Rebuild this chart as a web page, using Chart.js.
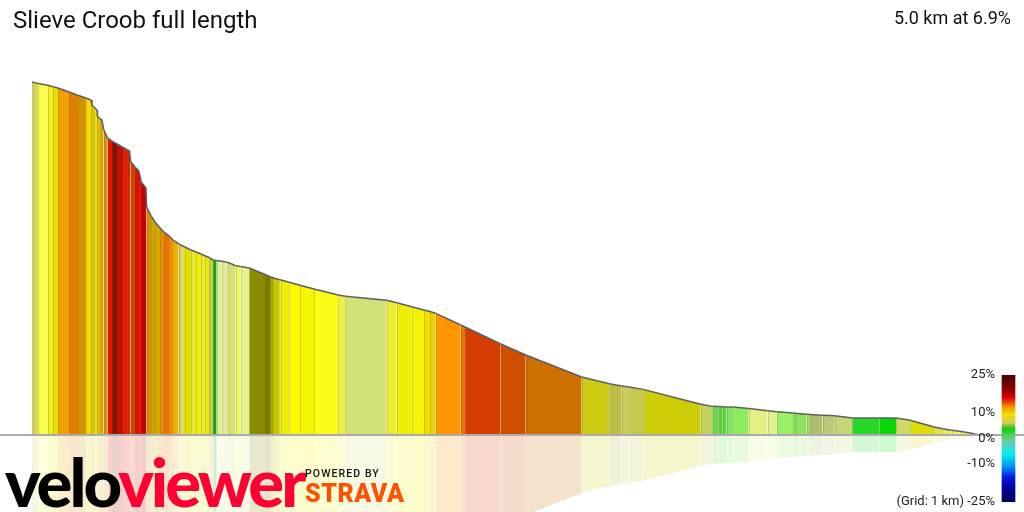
<!DOCTYPE html>
<html>
<head>
<meta charset="utf-8">
<title>Slieve Croob full length</title>
<script src="https://cdn.jsdelivr.net/npm/chart.js@4"></script>
<style>
    html, body { margin: 0; padding: 0; background: #fff; overflow: hidden; }
    #wrap { position: relative; width: 1024px; height: 512px; font-family: Roboto, sans-serif; color: #111; }
    #profile { position: absolute; left: 0; top: 0; }
    #scaleBar { position: absolute; left: 880px; top: 365px; }
    .label { position: absolute; white-space: nowrap; }
    #title { left: 13px; top: 5px; font-size: 24px; line-height: 30px; }
    #summary { right: 13px; top: 7px; font-size: 18px; line-height: 22px; }
    #logo { left: 5px; top: 441px; font-family: Lato, sans-serif; font-weight: 900; font-size: 67px; line-height: 80px; letter-spacing: -3px; transform-origin: left top; transform: scaleX(1.0); }
    #logo .velo { color: #000; }
    #logo .viewer { color: #ff0033; }
    #powered { left: 305px; top: 467px; font-size: 10.5px; font-weight: 500; letter-spacing: 1.1px; line-height: 13px; }
    #strava { left: 305px; top: 480px; font-size: 25px; font-weight: 900; letter-spacing: 0.5px; line-height: 28px; color: #fc5200; }
</style>
</head>
<body>
<div id="wrap">
    <canvas id="profile" width="1024" height="512"></canvas>
    <canvas id="scaleBar" width="142" height="147"></canvas>
    <div class="label" id="title">Slieve Croob full length</div>
    <div class="label" id="summary">5.0 km at 6.9%</div>
    <div class="label" id="logo"><span class="velo">velo</span><span class="viewer">viewer</span></div>
    <div class="label" id="powered">POWERED BY</div>
    <div class="label" id="strava">STRAVA</div>
</div>
<script>
// metres from the summit, elevation above the foot of the climb (m)
const distances = [
    0, 11, 32, 84, 111, 137, 195, 237, 269, 285, 311, 316, 327, 343, 345, 359, 369, 377, 398, 422,
    448, 480, 501, 514, 520, 543, 562, 570, 575, 601, 604, 628, 649, 675, 696, 723, 744, 773, 783, 807,
    839, 865, 891, 912, 934, 955, 974, 1001, 1034, 1074, 1101, 1146, 1229, 1255, 1271, 1292, 1312, 1357, 1413, 1487,
    1615, 1652, 1871, 1923, 2003, 2067, 2099, 2129, 2261, 2284, 2472, 2604, 2899, 3045, 3110, 3150, 3224, 3527, 3588, 3620,
    3643, 3664, 3699, 3780, 3880, 3928, 4015, 4036, 4086, 4103, 4170, 4234, 4326, 4469, 4557, 4632, 4753, 4801, 4850, 4894,
    4947, 5000
];
const elevations = [
    344.9, 344.5, 343.4, 341.7, 340.3, 339.0, 335.1, 332.2, 330.2, 329.2, 327.3, 322.4, 320.5, 317.5, 311.7, 308.7, 307.8, 299.0, 290.2, 287.2,
    284.3, 280.9, 278.9, 277.5, 267.2, 261.8, 258.4, 253.0, 247.5, 241.0, 223.1, 214.0, 208.1, 202.2, 198.3, 194.4, 190.5, 187.1, 185.6, 183.7,
    180.7, 178.8, 176.8, 175.2, 173.4, 171.0, 170.5, 169.7, 168.5, 165.4, 164.6, 163.2, 156.8, 154.7, 153.7, 152.4, 151.4, 149.2, 146.3, 142.6,
    136.8, 135.5, 131.6, 129.3, 125.3, 122.1, 120.7, 118.9, 107.5, 105.5, 88.9, 78.2, 56.7, 50.1, 47.9, 46.9, 44.6, 30.0, 28.0, 27.8,
    27.6, 27.5, 27.4, 25.9, 23.7, 22.8, 21.5, 21.0, 20.2, 20.0, 19.3, 18.9, 16.6, 16.6, 16.6, 14.4, 8.1, 6.2, 4.6, 3.6,
    2.0, 0
];
const gradeTicks = [25, 10, 0, -10, -25];

// fill for the stretch that starts at each point above
const segmentColours = [
    '#c8c860', '#dcdc50', '#f8fa50', '#f0f020', '#e5e000', '#f0a000', '#e08000', '#d89000', '#c8a000', '#ffd800',
    '#d8c800', '#d8c800', '#e8e020', '#e0c000', '#e0c000', '#d8a800', '#d8a800', '#d89000', '#e81000', '#881000',
    '#c01000', '#e81800', '#d02800', '#d02800', '#c84800', '#e01000', '#e01000', '#c80000', '#c80000', '#c80000',
    '#d89000', '#c8a800', '#d8a800', '#e09000', '#f07000', '#f09000', '#f0b000', '#c0c060', '#e0e040', '#e0e000',
    '#e8e830', '#f0f000', '#e8e840', '#e8f000', '#c8c850', '#10a810', '#e0f090', '#e5e8a0', '#d8e070', '#f0f860',
    '#e8f090', '#8b8b00', '#7a7a00', '#a8a800', '#c8c800', '#d8d810', '#eeee00', '#fafa00', '#f5f500', '#fcfc18',
    '#f0f040', '#d2e078', '#ecec30', '#eeee08', '#f4f400', '#f0e000', '#f0d000', '#ff9500', '#f07000', '#d43c00',
    '#cc5000', '#cc7000', '#cccc14', '#bcbc48', '#cccc58', '#c4c84c', '#cccc08', '#c4d060', '#70d050', '#50d030',
    '#60d840', '#80e460', '#8cec5c', '#e4f084', '#e4f094', '#9cf068', '#70e050', '#90e060', '#b0d070', '#acc070',
    '#bcc878', '#c8d478', '#28d828', '#08d808', '#d0d868', '#dcdc0c', '#e0e040', '#e8e858', '#f0f080', '#f0f050',
    '#e8e820'
];

const gradeStops = [
    [0, '#4a0000'], [0.12, '#900000'], [0.18, '#e00000'], [0.25, '#f09000'], [0.31, '#f0e000'], [0.38, '#d0c860'],
    [0.41, '#40c820'], [0.43, '#10d010'], [0.47, '#50d050'], [0.53, '#70c8b0'], [0.62, '#00f0f0'], [0.71, '#00a0f0'],
    [0.80, '#0020e8'], [0.88, '#0000a0'], [1, '#00005a']
];

const points = distances.map((d, i) => ({ x: d, y: elevations[i] }));
const mirrored = distances.map((d, i) => ({ x: d, y: -elevations[i] }));

// thin darker seam where the colour changes, up to the profile line
const segmentEdges = {
    id: 'segmentEdges',
    afterDatasetsDraw(chart) {
        const { ctx } = chart;
        const meta = chart.getDatasetMeta(0);
        const base = chart.scales.y.getPixelForValue(0);
        ctx.save();
        ctx.strokeStyle = 'rgba(90, 90, 40, 0.22)';
        ctx.lineWidth = 1;
        meta.data.forEach((pt, i) => {
            if (i === 0 || i >= segmentColours.length || segmentColours[i] === segmentColours[i - 1]) return;
            const x = Math.round(pt.x) + 0.5;
            ctx.beginPath();
            ctx.moveTo(x, pt.y + 1);
            ctx.lineTo(x, base);
            ctx.stroke();
        });
        ctx.restore();
    }
};

new Chart(document.getElementById('profile'), {
    type: 'line',
    data: {
        datasets: [
            {
                data: points,
                borderColor: '#5e5e5e',
                borderWidth: 1.5,
                pointRadius: 0,
                fill: 'origin',
                segment: { backgroundColor: c => segmentColours[c.p0DataIndex] }
            },
            {
                data: mirrored,
                borderWidth: 0,
                pointRadius: 0,
                fill: 'origin',
                segment: { backgroundColor: c => segmentColours[c.p0DataIndex] + '33', borderColor: 'transparent' }
            }
        ]
    },
    options: {
        responsive: false,
        animation: false,
        events: [],
        layout: { padding: 0 },
        plugins: { legend: { display: false }, tooltip: { enabled: false } },
        scales: {
            x: { type: 'linear', display: false, min: -169, max: 5232 },
            y: {
                min: -75.2,
                max: 425,
                ticks: { display: false },
                border: { display: false },
                grid: { color: '#ababab', lineWidth: 2, drawTicks: false, z: 1 },
                afterBuildTicks: scale => { scale.ticks = [{ value: 0 }]; },
                afterFit: scale => { scale.width = 0; }
            }
        }
    },
    plugins: [segmentEdges]
});

new Chart(document.getElementById('scaleBar'), {
    type: 'bar',
    data: {
        labels: ['grade'],
        datasets: [{
            data: [[-25, 25]],
            barThickness: 13,
            borderSkipped: false,
            backgroundColor: c => {
                const area = c.chart.chartArea;
                if (!area) return '#cccc00';
                const g = c.chart.ctx.createLinearGradient(0, area.top, 0, area.bottom);
                gradeStops.forEach(s => g.addColorStop(s[0], s[1]));
                return g;
            }
        }]
    },
    options: {
        responsive: false,
        animation: false,
        events: [],
        layout: { padding: { top: 10, bottom: 10, left: 0, right: 0 } },
        plugins: { legend: { display: false }, tooltip: { enabled: false } },
        scales: {
            x: { display: false },
            y: {
                min: -25,
                max: 25,
                border: { display: false },
                grid: { display: false, drawTicks: false },
                ticks: {
                    autoSkip: false,
                    padding: 0,
                    color: '#222',
                    font: { family: 'Roboto', size: 13 },
                    callback: v => (v === -25 ? '(Grid: 1 km) -25%' : v + '%')
                },
                afterBuildTicks: scale => { scale.ticks = gradeTicks.map(v => ({ value: v })); },
                afterFit: scale => { scale.width = 115; }
            }
        }
    }
});
</script>
</body>
</html>
